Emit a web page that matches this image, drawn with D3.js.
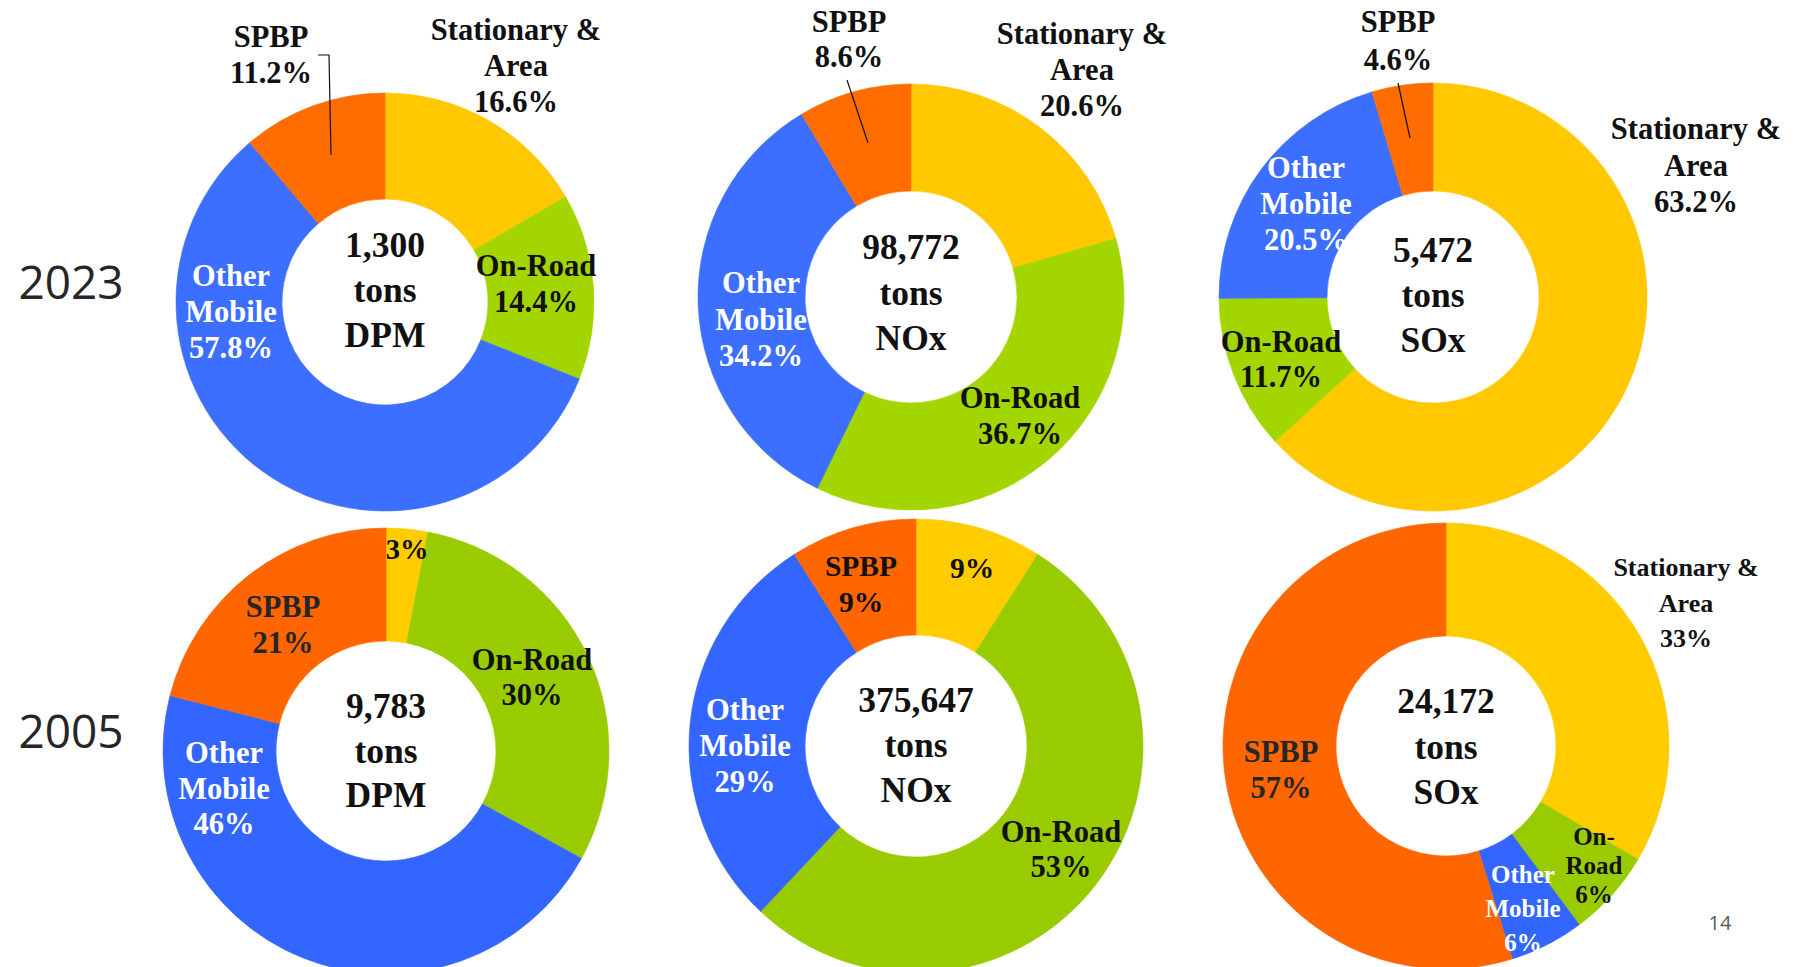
<!DOCTYPE html>
<html>
<head>
<meta charset="utf-8">
<script src="https://cdn.jsdelivr.net/npm/d3@7"></script>
<style>
  html, body { margin: 0; padding: 0; background: #ffffff; }
  svg { display: block; }
</style>
</head>
<body>
<svg id="chart" width="1795" height="967"></svg>
<script>
// ---------------- DATA ----------------
const years = ["2023", "2005"];
const pollutants = ["DPM", "NOx", "SOx"];
const categories = ["Stationary & Area", "On-Road", "Other Mobile", "SPBP"];

const totals2023 = [1300, 98772, 5472];
const totals2005 = [9783, 375647, 24172];

// shares in percent, order: Stationary & Area, On-Road, Other Mobile, SPBP
const dpm2023 = [16.6, 14.4, 57.8, 11.2];
const nox2023 = [20.6, 36.7, 34.2, 8.6];
const sox2023 = [63.2, 11.7, 20.5, 4.6];

const dpm2005 = [3, 30, 46, 21];
const nox2005 = [9, 53, 29, 9];
const sox2005 = [33, 6, 6, 57];            // printed labels
const sox2005Drawn = [33.5, 6.3, 5.4, 54.8]; // slice sizes as drawn in the picture

const pageNumber = "14";

// ---------------- STYLE / LAYOUT ----------------
const colors2023 = ["#FFC800", "#A3D600", "#3C6EFF", "#FF6D00"];
const colors2005 = ["#FFCC00", "#99CC00", "#3366FF", "#FF6600"];

const baseNames = [["Stationary &", "Area"], ["On-Road"], ["Other", "Mobile"], ["SPBP"]];
const LF = 30.5;   // label font size
const CF = 35.5;   // centre font size

const charts = [
  { year: 0, pol: 0, shares: dpm2023, drawn: dpm2023, total: totals2023[0], cx: 385, cy: 302, R: 209, r: 103, fmt: ".1f", colors: colors2023, centerDy: -45, centerLh: 45,
    labels: [
      { dx: 131, dy: -262, lh: 36, fs: LF, fill: "#111" },
      { dx: 151, dy: -26, lh: 36, fs: LF, fill: "#111" },
      { dx: -154, dy: -16, lh: 36, fs: LF, fill: "#fff" },
      { dx: -114, dy: -255, lh: 36, fs: LF, fill: "#111", leader: [[-67, -247], [-56, -247], [-54, -147]] }
    ] },
  { year: 0, pol: 1, shares: nox2023, drawn: nox2023, total: totals2023[1], cx: 911, cy: 297, R: 213, r: 106, fmt: ".1f", colors: colors2023, centerDy: -38, centerLh: 45.5,
    labels: [
      { dx: 171, dy: -253, lh: 36, fs: LF, fill: "#111" },
      { dx: 109, dy: 111, lh: 36, fs: LF, fill: "#111" },
      { dx: -150, dy: -4, lh: 36.5, fs: LF, fill: "#fff" },
      { dx: -62, dy: -265, lh: 35, fs: LF, fill: "#111", leader: [[-64, -217], [-43, -154]] }
    ] },
  { year: 0, pol: 2, shares: sox2023, drawn: sox2023, total: totals2023[2], cx: 1433, cy: 297, R: 214, r: 106, fmt: ".1f", colors: colors2023, centerDy: -35, centerLh: 45,
    labels: [
      { dx: 263, dy: -158, lh: 36.5, fs: LF, fill: "#111" },
      { dx: -152, dy: 55, lh: 35, fs: LF, fill: "#111" },
      { dx: -127, dy: -119, lh: 36, fs: LF, fill: "#fff" },
      { dx: -35, dy: -265, lh: 38, fs: LF, fill: "#111", leader: [[-35, -214], [-23, -159]] }
    ] },
  { year: 1, pol: 0, shares: dpm2005, drawn: dpm2005, total: totals2005[0], cx: 386, cy: 751, R: 223, r: 110, fmt: "d", colors: colors2005, centerDy: -33, centerLh: 44.5,
    labels: [
      { dx: 21, dy: -192, lh: 36, fs: 28.5, fill: "#111", names: [] },
      { dx: 146, dy: -81, lh: 35, fs: LF, fill: "#111" },
      { dx: -162, dy: 12, lh: 35.5, fs: LF, fill: "#fff" },
      { dx: -103, dy: -134, lh: 36, fs: LF, fill: "#262626" }
    ] },
  { year: 1, pol: 1, shares: nox2005, drawn: nox2005, total: totals2005[1], cx: 916, cy: 746, R: 227, r: 111, fmt: "d", colors: colors2005, centerDy: -34, centerLh: 45,
    labels: [
      { dx: 56, dy: -168, lh: 36, fs: 29.5, fill: "#111", names: [] },
      { dx: 145, dy: 96, lh: 35, fs: LF, fill: "#111" },
      { dx: -171, dy: -26, lh: 36, fs: LF, fill: "#fff" },
      { dx: -55, dy: -170, lh: 36, fs: 29.5, fill: "#111" }
    ] },
  { year: 1, pol: 2, shares: sox2005, drawn: sox2005Drawn, total: totals2005[2], cx: 1446, cy: 746, R: 223, r: 110, fmt: "d", colors: colors2005, centerDy: -33, centerLh: 45.5,
    labels: [
      { dx: 240, dy: -170, lh: 35.5, fs: 26, fill: "#111" },
      { dx: 148, dy: 99, lh: 29, fs: 25, fill: "#111", names: ["On-", "Road"] },
      { dx: 77, dy: 137, lh: 34, fs: 25, fill: "#fff" },
      { dx: -165, dy: 16, lh: 36, fs: LF, fill: "#262626" }
    ] }
];

const yearLabelPos = [{ x: 71, y: 299 }, { x: 71, y: 748 }];

// ---------------- DRAW ----------------
const svg = d3.select("#chart");
const serif = "'Liberation Serif', 'Times New Roman', serif";
const sans = "'Open Sans', 'Noto Sans', sans-serif";

const pie = d3.pie().sort(null).value(d => d).startAngle(0).endAngle(2 * Math.PI);
const comma = d3.format(",");

charts.forEach(c => {
  const g = svg.append("g").attr("transform", `translate(${c.cx},${c.cy})`);
  const arc = d3.arc().innerRadius(c.r).outerRadius(c.R);
  const arcs = pie(c.drawn);

  g.selectAll("path.slice")
    .data(arcs)
    .join("path")
    .attr("class", "slice")
    .attr("d", arc)
    .attr("fill", (d, i) => c.colors[i])
    .attr("stroke", (d, i) => c.colors[i])
    .attr("stroke-width", 0.6);

  const pct = d3.format(c.fmt);

  c.labels.forEach((L, i) => {
    if (L.leader) {
      g.append("path")
        .attr("d", d3.line()(L.leader))
        .attr("fill", "none")
        .attr("stroke", "#111")
        .attr("stroke-width", 1.2);
    }
    const names = L.names !== undefined ? L.names : baseNames[i];
    const lines = names.concat([pct(c.shares[i]) + "%"]);
    const t = g.append("text")
      .attr("text-anchor", "middle")
      .attr("font-family", serif)
      .attr("font-weight", "bold")
      .attr("font-size", L.fs)
      .attr("fill", L.fill);
    lines.forEach((s, k) => {
      t.append("tspan").attr("x", L.dx).attr("y", L.dy + k * L.lh).text(s);
    });
  });

  const centerLines = [comma(c.total), "tons", pollutants[c.pol]];
  const ct = g.append("text")
    .attr("text-anchor", "middle")
    .attr("font-family", serif)
    .attr("font-weight", "bold")
    .attr("font-size", CF)
    .attr("fill", "#111");
  centerLines.forEach((s, k) => {
    ct.append("tspan").attr("x", 0).attr("y", c.centerDy + k * c.centerLh).text(s);
  });
});

years.forEach((y, i) => {
  svg.append("text")
    .attr("x", yearLabelPos[i].x)
    .attr("y", yearLabelPos[i].y)
    .attr("text-anchor", "middle")
    .attr("font-family", sans)
    .attr("font-size", 46)
    .attr("fill", "#262626")
    .text(y);
});

svg.append("text")
  .attr("x", 1720)
  .attr("y", 930)
  .attr("text-anchor", "middle")
  .attr("font-family", sans)
  .attr("font-size", 20)
  .attr("fill", "#595959")
  .text(pageNumber);
</script>
</body>
</html>
